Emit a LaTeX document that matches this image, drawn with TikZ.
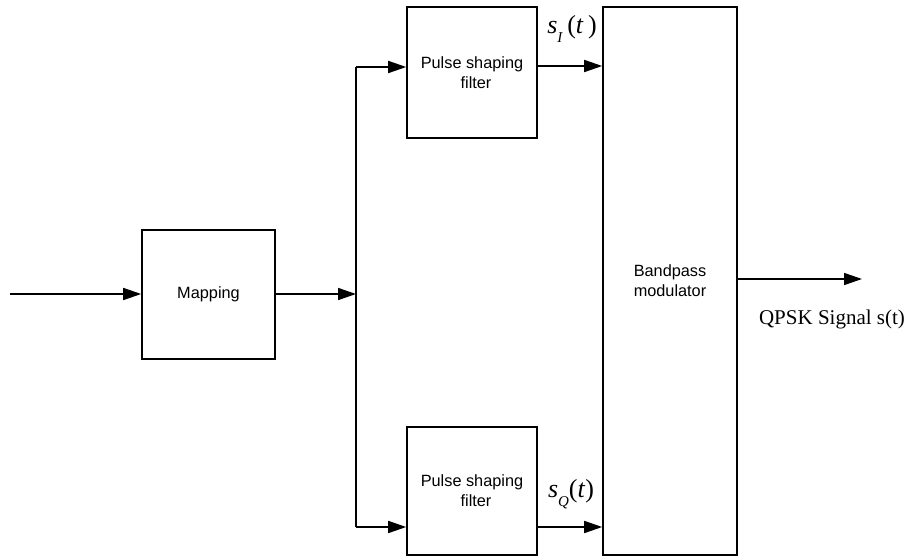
\documentclass[tikz,border=0pt]{standalone}
\usepackage{fontspec}
\setmainfont{Liberation Serif}
\newfontfamily\arialf{Liberation Sans}
\usetikzlibrary{arrows.meta}
\begin{document}
\begin{tikzpicture}[x=1pt,y=1pt,
  blk/.style={draw=black,line width=1.6pt,inner sep=0pt,align=center,
    font=\arialf\fontsize{16.3}{20}\selectfont},
  wire/.style={line width=1.6pt},
  arr/.style={line width=1.6pt,-{Triangle[length=18pt,width=12pt]}},
  lbl/.style={inner sep=0pt}]
\useasboundingbox (0,0) rectangle (909,-559);
\node[blk,minimum width=133pt,minimum height=129pt] (map) at (208.5,-294.5) {Mapping};
\node[blk,minimum width=130pt,minimum height=131pt] (pf1) at (472,-72.5) {Pulse shaping\\\hspace*{8pt}filter};
\node[blk,minimum width=130pt,minimum height=128pt] (pf2) at (472,-491) {Pulse shaping\\\hspace*{8pt}filter};
\node[blk,minimum width=134pt,minimum height=548pt] (mod) at (670,-281) {Bandpass\\modulator};
\coordinate (in) at (10,-294);
\coordinate (jn) at (356,-294);
\coordinate (jt) at (356,-67);
\coordinate (jb) at (356,-527);
\coordinate (out) at (862,-279);
\draw[arr] (in) -- (map.west |- in);
\draw[arr] (map.east |- jn) -- (jn);
\draw[wire] (jt) -- (jb);
\draw[arr] (jt) -- (pf1.west |- jt);
\draw[arr] (jb) -- (pf2.west |- jb);
\draw[arr] (pf1.east |- 0,-66) -- (mod.west |- 0,-66);
\draw[arr] (pf2.east |- 0,-527) -- (mod.west |- 0,-527);
\draw[arr] (mod.east |- out) -- (out);
\node[lbl,font=\fontsize{26}{28}\selectfont] (sI) at (572,-29)
  {\textit{s}\raisebox{-0.35em}{\fontsize{15}{16}\selectfont\textit{I}}\,(\textit{t}\,)};
\node[lbl,font=\fontsize{26}{28}\selectfont] (sQ) at (571,-494)
  {\textit{s}\raisebox{-0.35em}{\fontsize{15}{16}\selectfont\textit{Q}}(\textit{t})};
\node[lbl,font=\fontsize{21}{23}\selectfont] (qpsk) at (832,-319) {QPSK Signal s(t)};
\end{tikzpicture}
\end{document}
